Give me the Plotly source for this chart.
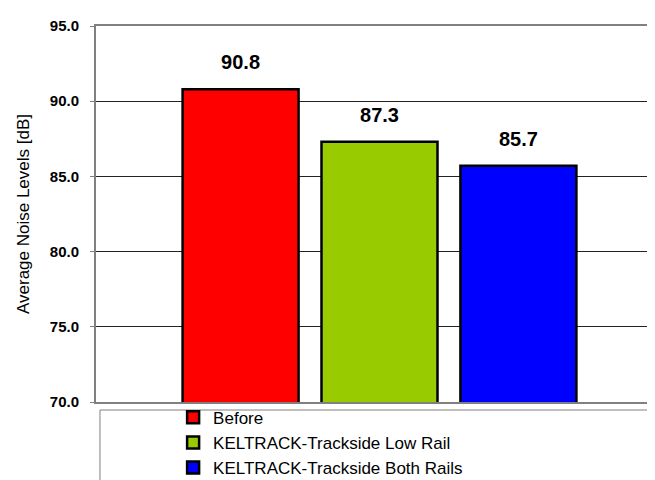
import plotly.graph_objects as go

series_names = ["Before", "KELTRACK-Trackside Low Rail", "KELTRACK-Trackside Both Rails"]
noise_levels = [90.8, 87.3, 85.7]
bar_colors = ["#FF0000", "#99CC00", "#0000FF"]
category = [""]
y_ticks = [70, 75, 80, 85, 90, 95]

FONT = "Liberation Sans, Arial, sans-serif"

fig = go.Figure()
for name, val, col in zip(series_names, noise_levels, bar_colors):
    fig.add_trace(go.Bar(
        x=category, y=[val], name=name,
        marker=dict(color=col, line=dict(color="black", width=2.5)),
        hoverinfo="skip",
    ))
for name, val in zip(series_names, noise_levels):
    fig.add_trace(go.Scatter(
        x=category, y=[val], mode="markers+text",
        text=[f"<b>{val:.1f}</b>"], textposition="top center",
        textfont=dict(family=FONT, size=20, color="black"),
        marker=dict(size=22, opacity=0),
        showlegend=False, hoverinfo="skip", cliponaxis=False,
    ))

fig.update_layout(
    width=655, height=480,
    margin=dict(l=88, r=0, t=18, b=86, autoexpand=False),
    paper_bgcolor="white", plot_bgcolor="white",
    barmode="group", bargap=0.265, bargroupgap=0.165,
    scattermode="group", scattergap=0.265,
    font=dict(family=FONT, color="black"),
    showlegend=True,
    legend=dict(
        x=0.136, xanchor="left", y=0.006, yanchor="top",
        font=dict(family=FONT, size=17, color="black"),
        bgcolor="rgba(0,0,0,0)", borderwidth=0,
        tracegroupgap=0, itemwidth=30,
    ),
    shapes=[dict(
        type="rect", xref="paper", yref="paper",
        x0=0.007, x1=0.9965, y0=-0.0213, y1=-0.6,
        line=dict(color="#808080", width=1), fillcolor="rgba(0,0,0,0)",
        layer="below",
    )],
    xaxis=dict(
        showticklabels=False, ticks="", showgrid=False,
        showline=True, linecolor="#808080", linewidth=2, mirror=True,
        zeroline=False, fixedrange=True,
    ),
    yaxis=dict(
        range=[70, 95], tickvals=y_ticks, tickformat=".1f",
        tickfont=dict(family=FONT, size=15, color="black", weight="bold"),
        ticks="outside", ticklen=4, tickcolor="#808080", tickwidth=1,
        ticklabelstandoff=8,
        showline=True, linecolor="#808080", linewidth=2,
        showgrid=True, gridcolor="#222222", gridwidth=1,
        zeroline=False, fixedrange=True,
        title=dict(text="Average Noise Levels [dB]", standoff=16,
                   font=dict(family=FONT, size=17, color="black")),
    ),
)

fig.write_html("out.html")
